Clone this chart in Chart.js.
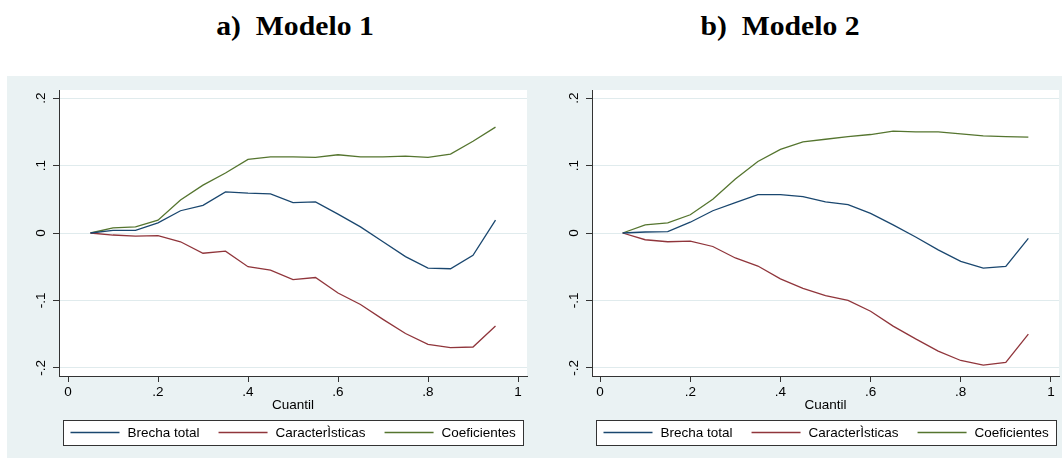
<!DOCTYPE html>
<html>
<head>
<meta charset="utf-8">
<script src="https://cdn.jsdelivr.net/npm/chart.js@4.4.1/dist/chart.umd.min.js"></script>
<style>
body{margin:0;background:#fff;width:1064px;height:458px;overflow:hidden;position:relative}
#bg{position:absolute;left:7px;top:76px;width:1055px;height:382px;background:#eaf2f3}
.ttl{position:absolute;top:13px;font:bold 27px "Liberation Serif","Times New Roman",serif;line-height:27px;white-space:pre;transform:translateX(-50%) scaleX(1.1)}
canvas{position:absolute;top:76px}
</style>
</head>
<body>
<div id="bg"></div>
<div class="ttl" style="left:295px">a)  Modelo 1</div>
<div class="ttl" style="left:780px">b)  Modelo 2</div>
<canvas id="c1" width="524" height="382" style="left:7px"></canvas>
<canvas id="c2" width="524" height="382" style="left:540px"></canvas>
<script>
// quantiles on the x axis
const quantil = [0.05, 0.10, 0.15, 0.20, 0.25, 0.30, 0.35, 0.40, 0.45, 0.50,
                 0.55, 0.60, 0.65, 0.70, 0.75, 0.80, 0.85, 0.90, 0.95];
const xTicks = [0, 0.2, 0.4, 0.6, 0.8, 1];
const xTickLabels = ['0', '.2', '.4', '.6', '.8', '1'];
const yTicks = [-0.2, -0.1, 0, 0.1, 0.2];
const yTickLabels = ['-.2', '-.1', '0', '.1', '.2'];
const seriesNames = ['Brecha total', 'CaracterÌsticas', 'Coeficientes'];

// a) Modelo 1
const m1Brecha = [0, 0.004, 0.004, 0.015, 0.033, 0.041, 0.061, 0.059, 0.058, 0.045,
                  0.046, 0.028, 0.009, -0.013, -0.035, -0.052, -0.053, -0.033, 0.019];
const m1Caract = [0, -0.003, -0.0045, -0.004, -0.013, -0.030, -0.027, -0.050, -0.055, -0.069,
                  -0.066, -0.089, -0.106, -0.128, -0.149, -0.165, -0.170, -0.169, -0.138];
const m1Coef   = [0, 0.0075, 0.009, 0.019, 0.049, 0.071, 0.089, 0.109, 0.113, 0.113,
                  0.112, 0.116, 0.113, 0.113, 0.114, 0.112, 0.117, 0.136, 0.157];

// b) Modelo 2
const m2Brecha = [0, 0.0015, 0.002, 0.016, 0.033, 0.045, 0.057, 0.057, 0.054, 0.046,
                  0.042, 0.029, 0.012, -0.006, -0.025, -0.042, -0.052, -0.0495, -0.008];
const m2Caract = [0, -0.010, -0.013, -0.012, -0.020, -0.037, -0.049, -0.068, -0.082, -0.093,
                  -0.100, -0.116, -0.138, -0.157, -0.175, -0.189, -0.196, -0.192, -0.150];
const m2Coef   = [0, 0.012, 0.015, 0.027, 0.050, 0.080, 0.106, 0.124, 0.135, 0.139,
                  0.143, 0.146, 0.151, 0.150, 0.150, 0.147, 0.144, 0.143, 0.142];

const lineColors = ['#1a476f', '#90353b', '#55752f'];
const FONT = '"Liberation Sans", Arial, sans-serif';

// white plot region + stata style legend box
const stataLook = {
  id: 'stataLook',
  beforeDraw(chart) {
    const {ctx, chartArea: a} = chart;
    ctx.save();
    ctx.fillStyle = '#fff';
    ctx.fillRect(a.left, a.top, a.right - a.left, a.bottom - a.top);
    ctx.restore();
  },
  afterDraw(chart) {
    const {ctx, chartArea: a} = chart;
    const cy = 356.5;
    ctx.save();
    ctx.font = '13.5px ' + FONT;
    const items = chart.data.datasets.map(d => ({label: d.label, color: d.borderColor, w: ctx.measureText(d.label).width}));
    const lineW = 49, gapTxt = 8, gapItem = 19;
    let total = items.reduce((s, it) => s + lineW + gapTxt + it.w, 0) + gapItem * (items.length - 1);
    const boxW = Math.round(total + 15);
    const bx = Math.round((a.left + a.right) / 2 - boxW / 2) + 0.5;
    ctx.fillStyle = '#fff';
    ctx.fillRect(bx, cy - 12, boxW, 25);
    ctx.strokeStyle = '#333';
    ctx.lineWidth = 1;
    ctx.strokeRect(bx, cy - 12, boxW, 25);
    let x = bx + 7;
    ctx.textBaseline = 'middle';
    items.forEach(it => {
      ctx.strokeStyle = it.color;
      ctx.lineWidth = 1.3;
      ctx.beginPath();
      ctx.moveTo(x, cy);
      ctx.lineTo(x + lineW, cy);
      ctx.stroke();
      ctx.fillStyle = '#000';
      ctx.fillText(it.label, x + lineW + gapTxt, cy + 0.5);
      x += lineW + gapTxt + it.w + gapItem;
    });
    ctx.restore();
  }
};

function makeChart(id, series, xmin, xmax, padRight) {
  return new Chart(document.getElementById(id), {
    type: 'line',
    data: {
      datasets: series.map((vals, k) => ({
        label: seriesNames[k],
        data: quantil.map((q, i) => ({x: q, y: vals[i]})),
        borderColor: lineColors[k],
        backgroundColor: lineColors[k],
        borderWidth: 1.3,
        pointRadius: 0,
        tension: 0,
        fill: false
      }))
    },
    options: {
      responsive: false,
      animation: false,
      devicePixelRatio: 1,
      layout: {padding: {top: 14, right: padRight, bottom: 45, left: 0}},
      plugins: {legend: {display: false}, tooltip: {enabled: false}},
      scales: {
        x: {
          type: 'linear', min: xmin, max: xmax,
          afterBuildTicks: s => { s.ticks = xTicks.map(v => ({value: v})); },
          afterFit: s => { s.height = 37; },
          ticks: {
            callback: (v, i) => xTickLabels[i],
            maxRotation: 0, autoSkip: false, padding: 2,
            color: '#000', font: {family: FONT, size: 13.5}
          },
          grid: {drawOnChartArea: false, tickLength: 6, tickColor: '#333'},
          border: {display: true, color: '#333', width: 1},
          title: {display: true, text: 'Cuantil', color: '#000', padding: 0, font: {family: FONT, size: 13.5}}
        },
        y: {
          min: -0.212, max: 0.212,
          afterBuildTicks: s => { s.ticks = yTicks.map(v => ({value: v})); },
          afterFit: s => { s.width = 52; },
          ticks: {
            callback: (v, i) => yTickLabels[i],
            minRotation: 90, maxRotation: 90, crossAlign: 'center', padding: 3.6,
            color: '#000', font: {family: FONT, size: 13.5}
          },
          grid: {color: '#e0ebed', lineWidth: 1, tickLength: 6, tickColor: '#333'},
          border: {display: true, color: '#333', width: 1}
        }
      }
    },
    plugins: [stataLook]
  });
}

makeChart('c1', [m1Brecha, m1Caract, m1Coef], -0.02, 1.02, 4);
makeChart('c2', [m2Brecha, m2Caract, m2Coef], -0.018, 1.018, 5);
</script>
</body>
</html>
